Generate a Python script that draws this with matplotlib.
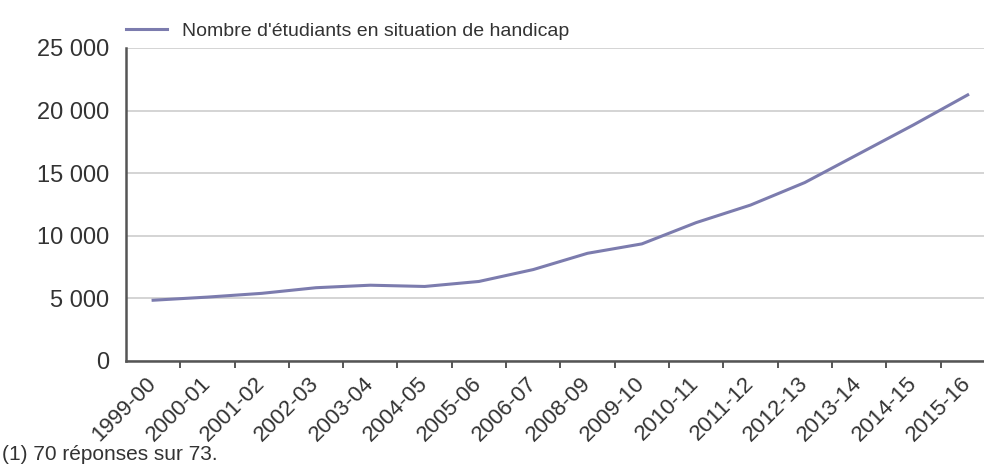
import numpy as np
import matplotlib.pyplot as plt

plt.rcParams['font.family'] = ['Liberation Sans Narrow', 'Liberation Sans', 'DejaVu Sans']

annees = ["1999-00", "2000-01", "2001-02", "2002-03", "2003-04", "2004-05",
          "2005-06", "2006-07", "2008-09", "2009-10", "2010-11", "2011-12",
          "2012-13", "2013-14", "2014-15", "2015-16"]
etudiants = [4850, 5100, 5400, 5850, 6050, 5950, 6350, 7300, 8600, 9350,
             11050, 12450, 14250, 16550, 18850, 21250]

label = "Nombre d'étudiants en situation de handicap"
note = "(1) 70 réponses sur 73."

fig = plt.figure(figsize=(9.84, 4.70), dpi=100)
ax = fig.add_axes([0.128, 0.232, 0.872, 0.666])

x = np.arange(len(annees))
ax.plot(x, etudiants, color='#7c7cae', linewidth=2.2, label=label, zorder=3)

ax.set_ylim(0, 25000)
ax.set_xlim(-0.5, 15.3)
ax.set_yticks(range(0, 25001, 5000))
ax.set_yticklabels([f"{v:,}".replace(",", " ") for v in range(0, 25001, 5000)],
                   fontsize=17, color='#333333')
ax.yaxis.grid(True, color='#d4d4d4', linewidth=1.4)
ax.set_axisbelow(True)
ax.tick_params(axis='y', length=0, pad=12)

ax.set_xticks(x)
ax.set_xticklabels(annees, rotation=45, ha='right', va='center',
                   rotation_mode='anchor', fontsize=16, color='#333333')
ax.set_xticks(np.arange(0.5, len(annees) - 0.5, 1), minor=True)
ax.tick_params(axis='x', which='major', length=0, pad=14)
ax.tick_params(axis='x', which='minor', length=5, width=1.4, color='#555555')

for side in ['top', 'right']:
    ax.spines[side].set_visible(False)
for side in ['left', 'bottom']:
    ax.spines[side].set_color('#555555')
    ax.spines[side].set_linewidth(1.8)

ax.legend(loc='center left', bbox_to_anchor=(0.0, 1.054), frameon=False,
          fontsize=14, handlelength=2.1, handletextpad=0.8, borderaxespad=0,
          borderpad=0, labelcolor='#333333')

fig.text(0.002, 0.032, note, fontsize=15, color='#333333', va='center')

fig.savefig("out.png", dpi=100)
